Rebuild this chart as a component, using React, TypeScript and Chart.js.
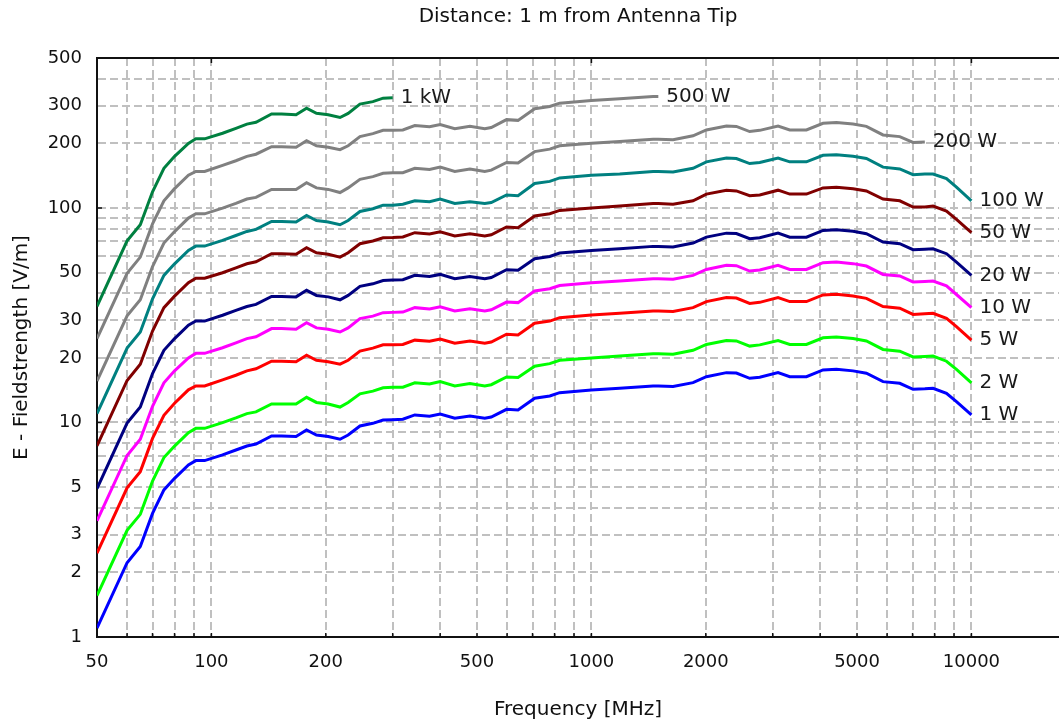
import React, { useEffect, useRef } from 'react';
import { Chart, registerables } from 'chart.js';

Chart.register(...registerables);

const FONT = '"DejaVu Sans", "Liberation Sans", Arial, sans-serif';

// Frequencies [MHz] shared by all curves
const freqs = [50, 60, 65, 70, 75, 80, 87, 91, 96, 107, 116, 124, 131, 144, 153, 167, 178, 189, 203, 218,
  229, 246, 266, 283, 300, 319, 343, 375, 400, 437, 479, 524, 545, 598, 641, 709, 777, 825, 1000, 1187,
  1453, 1500, 1640, 1851, 2007, 2266, 2407, 2609, 2773, 3098, 3326, 3680, 4069, 4413, 4881, 5292, 5853, 6477, 7021, 7540,
  7924, 8597, 9133, 10000];

// Field strength [V/m]
const w1 = [1.10, 2.22, 2.64, 3.77, 4.85, 5.49, 6.34, 6.64, 6.64, 7.06,
  7.44, 7.77, 7.94, 8.65, 8.65, 8.60, 9.23, 8.74, 8.60, 8.35,
  8.74, 9.63, 9.91, 10.27, 10.30, 10.35, 10.84, 10.70, 10.95, 10.46,
  10.72, 10.46, 10.60, 11.52, 11.44, 12.97, 13.29, 13.77, 14.17, 14.43,
  14.80, 14.80, 14.70, 15.33, 16.35, 17.07, 17.00, 16.07, 16.25, 17.07,
  16.35, 16.35, 17.57, 17.70, 17.40, 16.96, 15.50, 15.23, 14.28, 14.35,
  14.43, 13.68, 12.50, 10.84];
const w2 = [1.56, 3.14, 3.73, 5.33, 6.86, 7.76, 8.97, 9.39, 9.39, 9.98,
  10.5, 11.0, 11.2, 12.2, 12.2, 12.2, 13.1, 12.4, 12.2, 11.8,
  12.4, 13.6, 14.0, 14.5, 14.6, 14.6, 15.3, 15.1, 15.5, 14.8,
  15.2, 14.8, 15.0, 16.3, 16.2, 18.3, 18.8, 19.5, 20.0, 20.4,
  20.9, 20.9, 20.8, 21.7, 23.1, 24.1, 24.0, 22.7, 23.0, 24.1,
  23.1, 23.1, 24.8, 25.0, 24.6, 24.0, 21.9, 21.5, 20.2, 20.3,
  20.4, 19.3, 17.7, 15.3];
const w5 = [2.46, 4.96, 5.90, 8.43, 10.8, 12.3, 14.2, 14.8, 14.8, 15.8,
  16.6, 17.4, 17.8, 19.3, 19.3, 19.2, 20.6, 19.5, 19.2, 18.7,
  19.5, 21.5, 22.2, 23.0, 23.0, 23.1, 24.2, 23.9, 24.5, 23.4,
  24.0, 23.4, 23.7, 25.8, 25.6, 29.0, 29.7, 30.8, 31.7, 32.3,
  33.1, 33.1, 32.9, 34.3, 36.6, 38.2, 38.0, 35.9, 36.3, 38.2,
  36.6, 36.6, 39.3, 39.6, 38.9, 37.9, 34.7, 34.1, 31.9, 32.1,
  32.3, 30.6, 28.0, 24.2];
const w10 = [3.48, 7.02, 8.35, 11.9, 15.3, 17.4, 20.0, 21.0, 21.0, 22.3,
  23.5, 24.6, 25.1, 27.4, 27.4, 27.2, 29.2, 27.6, 27.2, 26.4,
  27.6, 30.5, 31.3, 32.5, 32.6, 32.7, 34.3, 33.8, 34.6, 33.1,
  33.9, 33.1, 33.5, 36.4, 36.2, 41.0, 42.0, 43.5, 44.8, 45.6,
  46.8, 46.8, 46.5, 48.5, 51.7, 54.0, 53.8, 50.8, 51.4, 54.0,
  51.7, 51.7, 55.6, 56.0, 55.0, 53.6, 49.0, 48.2, 45.2, 45.4,
  45.6, 43.3, 39.5, 34.3];
const w20 = [4.92, 9.93, 11.8, 16.9, 21.7, 24.6, 28.4, 29.7, 29.7, 31.6,
  33.3, 34.7, 35.5, 38.7, 38.7, 38.5, 41.3, 39.1, 38.5, 37.3,
  39.1, 43.1, 44.3, 45.9, 46.1, 46.3, 48.5, 47.9, 49.0, 46.8,
  47.9, 46.8, 47.4, 51.5, 51.2, 58.0, 59.4, 61.6, 63.4, 64.5,
  66.2, 66.2, 65.7, 68.6, 73.1, 76.3, 76.0, 71.9, 72.7, 76.3,
  73.1, 73.1, 78.6, 79.2, 77.8, 75.8, 69.3, 68.1, 63.9, 64.2,
  64.5, 61.2, 55.9, 48.5];
const w50 = [7.78, 15.7, 18.7, 26.7, 34.3, 38.8, 44.8, 47.0, 47.0, 49.9,
  52.6, 54.9, 56.1, 61.2, 61.2, 60.8, 65.3, 61.8, 60.8, 59.0,
  61.8, 68.1, 70.1, 72.6, 72.8, 73.2, 76.7, 75.7, 77.4, 74.0,
  75.8, 74.0, 75.0, 81.5, 80.9, 91.7, 94.0, 97.4, 100, 102,
  105, 105, 104, 108, 116, 121, 120, 114, 115, 121,
  116, 116, 124, 125, 123, 120, 110, 108, 101, 101,
  102, 96.7, 88.4, 76.7];
const w100 = [11.0, 22.2, 26.4, 37.7, 48.5, 54.9, 63.4, 66.4, 66.4, 70.6,
  74.4, 77.7, 79.4, 86.5, 86.5, 86.0, 92.3, 87.4, 86.0, 83.5,
  87.4, 96.3, 99.1, 103, 103, 104, 108, 107, 110, 105,
  107, 105, 106, 115, 114, 130, 133, 138, 142, 144,
  148, 148, 147, 153, 164, 171, 170, 161, 163, 171,
  164, 164, 176, 177, 174, 170, 155, 152, 143, 144,
  144, 137, 125, 108];
const w200 = [15.6, 31.4, 37.3, 53.3, 68.6, 77.6, 89.7, 93.9, 93.9, 99.8,
  105, 110, 112, 122, 122, 122, 131, 124, 122, 118,
  124, 136, 140, 145, 146, 146, 153, 151, 155, 148,
  152, 148, 150, 163, 162, 183, 188, 195, 200, 204,
  209, 209, 208, 217, 231, 241, 240, 227, 230, 241,
  231, 231, 248, 250, 246, 240, 219, 215, 202, 203];
const w500 = [24.6, 49.6, 59.0, 84.3, 108, 123, 142, 148, 148, 158,
  166, 174, 178, 193, 193, 192, 206, 195, 192, 187,
  195, 215, 222, 230, 230, 231, 242, 239, 245, 234,
  240, 234, 237, 258, 256, 290, 297, 308, 317, 323,
  331, 331];
const w1k = [34.8, 70.2, 83.5, 119, 153, 174, 200, 210, 210, 223,
  235, 246, 251, 274, 274, 272, 292, 276, 272, 264,
  276, 305, 313, 325, 326];

const seriesLabels = ['1 kW', '500 W', '200 W', '100 W', '50 W', '20 W', '10 W', '5 W', '2 W', '1 W'];
const seriesValues = [w1k, w500, w200, w100, w50, w20, w10, w5, w2, w1];
const seriesColors = ['#008040', '#808080', '#808080', '#008080', '#800000', '#000080', '#ff00ff', '#ff0000', '#00ff00', '#0000ff'];

const xGrid = [50, 60, 70, 80, 90, 100, 200, 300, 400, 500, 600, 700, 800, 900, 1000,
  2000, 3000, 4000, 5000, 6000, 7000, 8000, 9000, 10000];
const xLabels = [50, 100, 200, 500, 1000, 2000, 5000, 10000];
const yGrid = [1, 2, 3, 4, 5, 6, 7, 8, 9, 10, 20, 30, 40, 50, 60, 70, 80, 90, 100, 200, 300, 400, 500];
const yLabels = [1, 2, 3, 5, 10, 20, 30, 50, 100, 200, 300, 500];
const xMajorMarks = [100, 1000, 10000];
const yMajorMarks = [10, 100];

const GRID = '#c0c0c0';
const AXIS = '#111111';

const endLabels = {
  id: 'endLabels',
  afterDatasetsDraw(chart: any) {
    const ctx = chart.ctx;
    ctx.save();
    ctx.font = `20px ${FONT}`;
    ctx.fillStyle = '#1a1a1a';
    ctx.textBaseline = 'middle';
    ctx.textAlign = 'left';
    chart.data.datasets.forEach((ds: any, i: number) => {
      const meta = chart.getDatasetMeta(i);
      const pt = meta.data[meta.data.length - 1];
      if (pt) ctx.fillText(ds.label, pt.x + 8, pt.y);
    });
    ctx.restore();
  },
};

const frame = {
  id: 'frame',
  afterDraw(chart: any) {
    const { ctx, chartArea: a, scales } = chart;
    ctx.save();
    ctx.strokeStyle = AXIS;
    ctx.lineWidth = 2;
    ctx.beginPath();
    ctx.moveTo(a.left, a.top);
    ctx.lineTo(a.right, a.top);
    ctx.stroke();
    ctx.lineWidth = 1.5;
    ctx.beginPath();
    xGrid.forEach((v) => {
      const x = scales.x.getPixelForValue(v);
      ctx.moveTo(x, a.bottom);
      ctx.lineTo(x, a.bottom - 4);
    });
    xMajorMarks.forEach((v) => {
      const x = scales.x.getPixelForValue(v);
      ctx.moveTo(x, a.top);
      ctx.lineTo(x, a.top + 5);
    });
    yMajorMarks.forEach((v) => {
      const y = scales.y.getPixelForValue(v);
      ctx.moveTo(a.left, y);
      ctx.lineTo(a.left + 5, y);
    });
    ctx.stroke();
    ctx.restore();
  },
};

export default function App() {
  const ref = useRef<HTMLCanvasElement>(null);

  useEffect(() => {
    const canvas = ref.current;
    if (!canvas) return;
    const datasets = seriesValues.map((vals, k) => ({
      label: seriesLabels[k],
      data: vals.map((v, i) => ({ x: freqs[i], y: v })),
      borderColor: seriesColors[k],
      backgroundColor: seriesColors[k],
      borderWidth: 3,
      pointRadius: 0,
      tension: 0,
      fill: false,
    }));

    const chart = new Chart(canvas, {
      type: 'line',
      data: { datasets },
      options: {
        animation: false,
        responsive: true,
        maintainAspectRatio: false,
        layout: { padding: 0 },
        plugins: {
          legend: { display: false },
          tooltip: { enabled: false },
          title: {
            display: true,
            text: 'Distance: 1 m from Antenna Tip',
            fullSize: false,
            color: '#111',
            font: { family: FONT, size: 20, weight: 'normal' },
            padding: { top: 5, bottom: 29 },
          },
        },
        scales: {
          x: {
            type: 'logarithmic',
            min: 50,
            max: 17000,
            afterBuildTicks: (s: any) => {
              s.ticks = xGrid.map((v) => ({ value: v }));
            },
            afterFit: (s: any) => {
              s.height = 88;
            },
            ticks: {
              autoSkip: false,
              maxRotation: 0,
              minRotation: 0,
              padding: 15,
              color: '#111',
              font: { family: FONT, size: 18 },
              callback: (v: any) => (xLabels.includes(Number(v)) ? String(v) : ''),
            },
            grid: { color: GRID, lineWidth: 2, drawTicks: false },
            border: { display: true, color: AXIS, width: 2, dash: [8, 4] },
            title: {
              display: true,
              text: 'Frequency [MHz]',
              color: '#111',
              font: { family: FONT, size: 20 },
              padding: { top: 0, bottom: 3 },
            },
          },
          y: {
            type: 'logarithmic',
            min: 1,
            max: 500,
            afterBuildTicks: (s: any) => {
              s.ticks = yGrid.map((v) => ({ value: v }));
            },
            afterFit: (s: any) => {
              s.width = 97;
            },
            ticks: {
              autoSkip: false,
              padding: 15,
              color: '#111',
              font: { family: FONT, size: 18 },
              callback: (v: any) => (yLabels.includes(Number(v)) ? String(v) : ''),
            },
            grid: { color: GRID, lineWidth: 2, drawTicks: false },
            border: { display: true, color: AXIS, width: 2, dash: [8, 4] },
            title: {
              display: true,
              text: 'E - Fieldstrength [V/m]',
              color: '#111',
              font: { family: FONT, size: 20 },
              padding: { top: 10, bottom: 0 },
            },
          },
        },
      } as any,
      plugins: [endLabels, frame],
    });

    return () => chart.destroy();
  }, []);

  return (
    <div style={{ position: 'absolute', left: 0, top: 0, width: 1059, height: 725, background: '#fff' }}>
      <canvas ref={ref} />
    </div>
  );
}
